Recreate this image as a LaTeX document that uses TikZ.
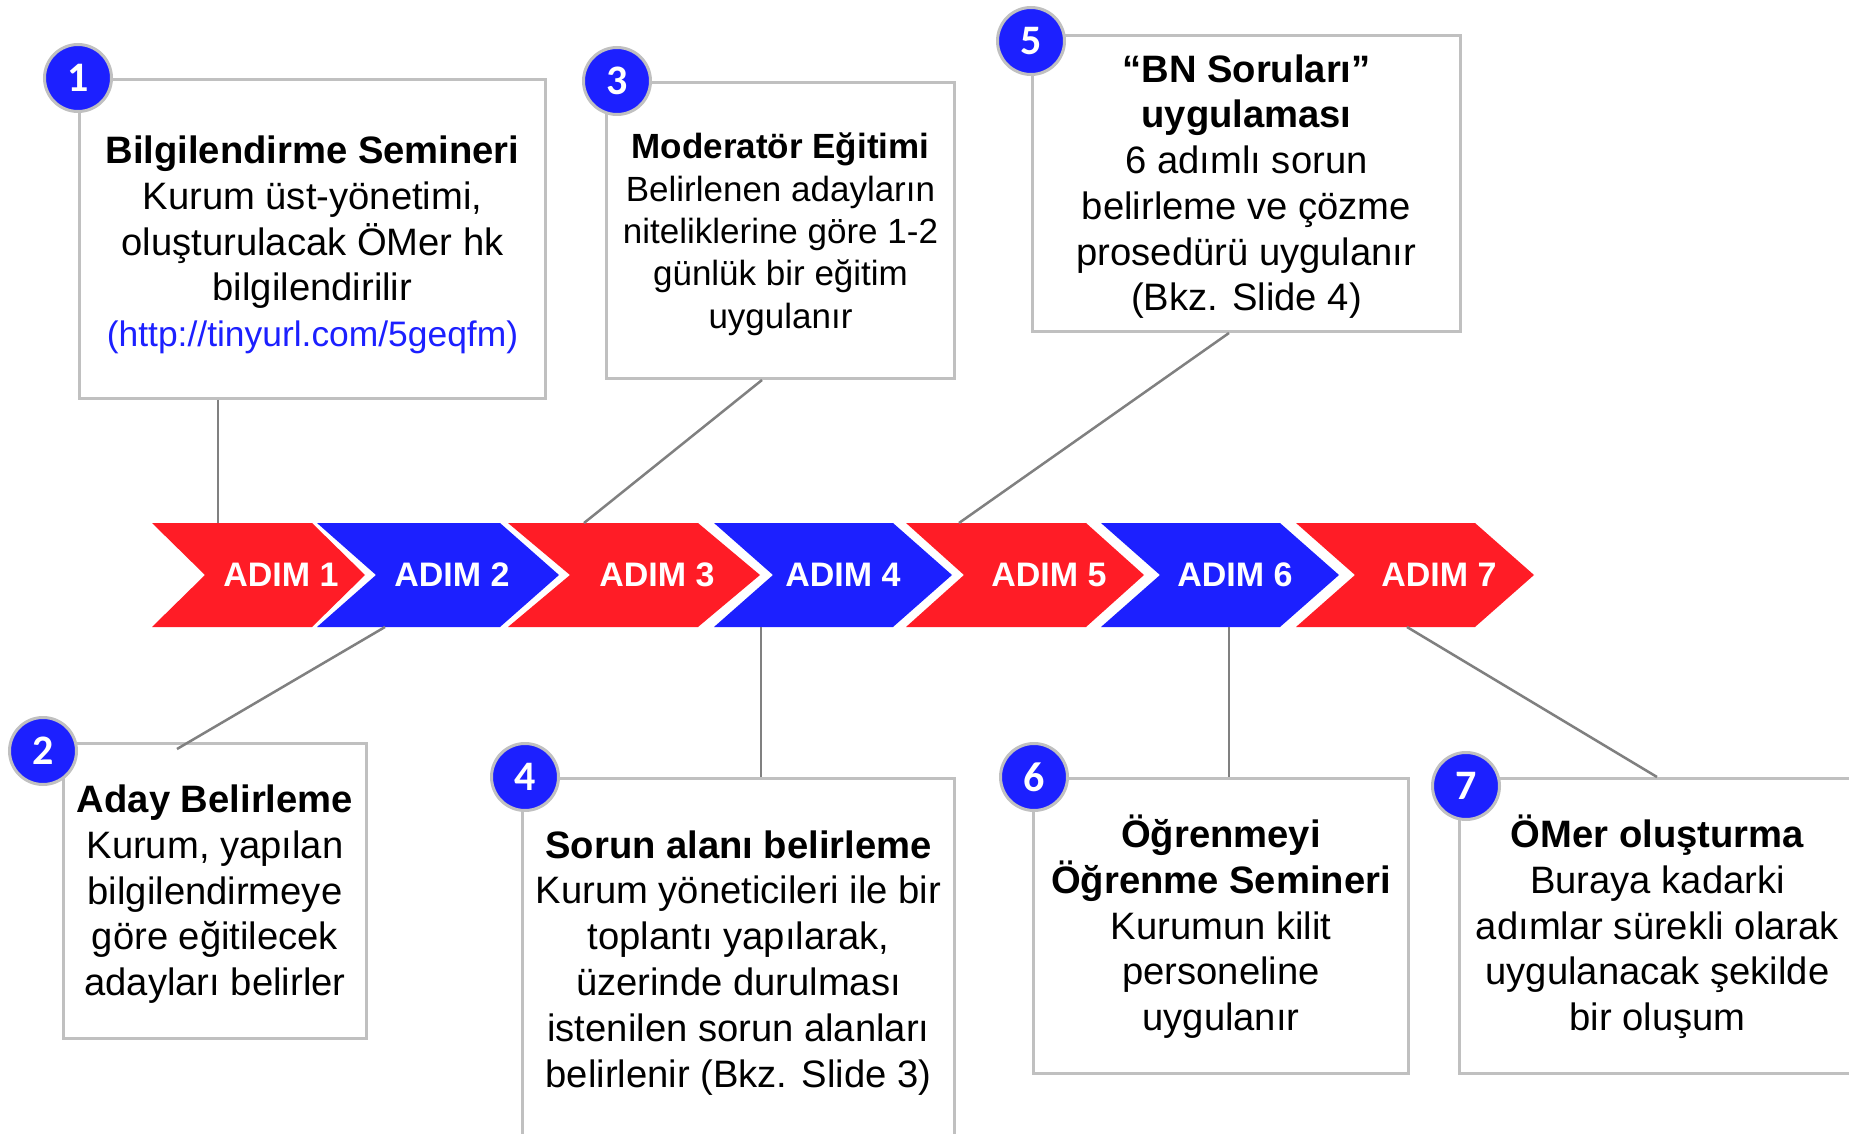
\documentclass[tikz,border=0pt]{standalone}
\usepackage{fontspec}
\setmainfont{Liberation Sans}
\newfontfamily\numfont{Carlito}
\usetikzlibrary{calc}
\definecolor{cred}{RGB}{255,28,38}
\definecolor{cblue}{RGB}{28,32,255}
\definecolor{bgray}{RGB}{192,192,192}
\definecolor{lgray}{RGB}{128,128,128}
\newcommand\mytop[1]{\rule{0pt}{#1pt}}
\newcommand\mybot{\rule[-10pt]{0pt}{0pt}}
\begin{document}
\begin{tikzpicture}[x=0.5pt,y=-0.5pt,
  box/.style={draw=bgray, line width=1.5pt, fill=white, inner sep=0pt, anchor=north west, align=center, font=\fontsize{19.1}{22.9}\selectfont},
  num/.style={circle, fill=cblue, draw=bgray, line width=1.5pt, minimum size=33.5pt, inner sep=0pt, text=white, font=\numfont\bfseries\fontsize{21}{21}\selectfont},
  adim/.style={text=white, font=\bfseries\fontsize{17}{17}\selectfont, inner sep=0pt},
  conn/.style={draw=lgray, line width=1.25pt}]
\useasboundingbox (0,0) rectangle (1849,1134);
\clip (0,0) rectangle (1849,1134);
\fill[white] (0,0) rectangle (1849,1134);

% chevrons
\foreach \L/\R/\d/\c/\tx/\n in {152/312/53/cred/281/1, 317/500/59/cblue/452/2, 508/698/62/cred/657/3, 714/893/59/cblue/843/4, 906/1086/58/cred/1049/5, 1101/1280/59/cblue/1235/6, 1296/1475/59/cred/1439/7}{
  \fill[\c] (\L,523) -- (\R,523) -- (\R+\d,575) -- (\R,627) -- (\L,627) -- (\L+\d,575) -- cycle;
  \node[adim] (a\n) at (\tx,575) {ADIM \n};
}

% attach points on the chevron band
\coordinate (k1) at (218,523);
\coordinate (k2) at (385,627);
\coordinate (k3) at (584,523);
\coordinate (k4) at (761,627);
\coordinate (k5) at (959,523);
\coordinate (k6) at (1229,627);
\coordinate (k7) at (1407,627);

% boxes
\node[box, minimum width=233pt, minimum height=159.5pt] (b1) at (78,78)
  {\mytop{26.1}\textbf{Bilgilendirme Semineri}\\Kurum üst-yönetimi,\\oluşturulacak ÖMer hk\\bilgilendirilir\\\textcolor{cblue}{\fontsize{17.7}{22.9}\selectfont(http://tinyurl.com/5geqfm)}\mybot};
\node[box, minimum width=151.5pt, minimum height=147.5pt] (b2) at (62,742)
  {\mytop{23.1}\textbf{Aday Belirleme}\\Kurum, yapılan\\bilgilendirmeye\\göre eğitilecek\\adayları belirler\mybot};
\node[box, minimum width=174pt, minimum height=148pt, font=\fontsize{17.5}{21.2}\selectfont] (b3) at (605,81)
  {\mytop{23}\textbf{Moderatör Eğitimi}\\Belirlenen adayların\\niteliklerine göre 1-2\\günlük bir eğitim\\uygulanır\mybot};
\node[box, minimum width=216pt, minimum height=181.5pt] (b4) at (521,777)
  {\mytop{22.5}\textbf{Sorun alanı belirleme}\\Kurum yöneticileri ile bir\\toplantı yapılarak,\\üzerinde durulması\\istenilen sorun alanları\\belirlenir (Bkz. Slide 3)\mybot};
\node[box, minimum width=214pt, minimum height=148pt] (b5) at (1031,34)
  {\mytop{23}\textbf{“BN Soruları”}\\\textbf{uygulaması}\\6 adımlı sorun\\belirleme ve çözme\\prosedürü uygulanır\\(Bkz. Slide 4)\mybot};
\node[box, minimum width=187.5pt, minimum height=147.5pt] (b6) at (1032,777)
  {\mytop{23.1}\textbf{Öğrenmeyi}\\\textbf{Öğrenme Semineri}\\Kurumun kilit\\personeline\\uygulanır\mybot};
\node[box, minimum width=198pt, minimum height=147.5pt] (b7) at (1458,777)
  {\mytop{23.1}\textbf{ÖMer oluşturma}\\Buraya kadarki\\adımlar sürekli olarak\\uygulanacak şekilde\\bir oluşum\mybot};

% connectors
\draw[conn] (b1.south -| k1) -- (k1);
\draw[conn] (k2) -- ($(b2.north west)+(115,7)$);
\draw[conn] ($(b3.south west)+(157,0)$) -- (k3);
\draw[conn] (k4) -- (b4.north -| k4);
\draw[conn] ($(b5.south west)+(198,0)$) -- (k5);
\draw[conn] (k6) -- (b6.north -| k6);
\draw[conn] (k7) -- ($(b7.north west)+(199,0)$);

% number circles
\node[num] (c1) at (78,78) {1};
\node[num] (c2) at (43,751) {2};
\node[num] (c3) at (617,81) {3};
\node[num] (c4) at (525,777) {4};
\node[num] (c5) at (1031,41) {5};
\node[num] (c6) at (1034,777) {6};
\node[num] (c7) at (1466,786) {7};
\end{tikzpicture}
\end{document}
